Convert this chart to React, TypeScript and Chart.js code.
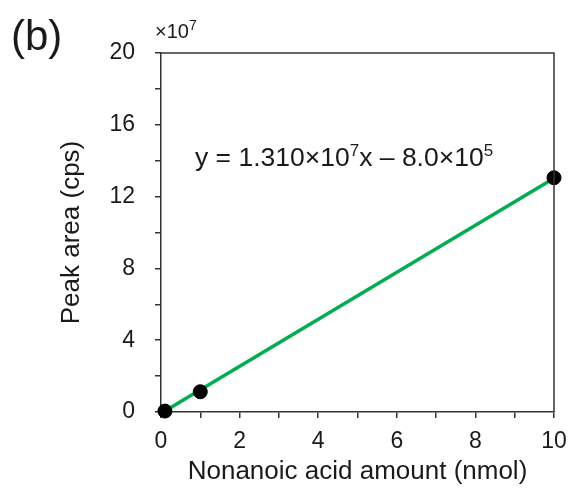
import React, { useEffect, useRef } from "react";
import { Chart, registerables } from "chart.js";

Chart.register(...registerables);

// Calibration data: nonanoic acid amount (nmol) vs. peak area (cps)
const AMOUNT_NMOL = [0.1, 1, 10];
const PEAK_AREA_CPS = [5.0e5, 1.13e7, 1.305e8];

// Linear fit shown in the equation label
const SLOPE = 1.31e7;
const INTERCEPT = -8.0e5;

const X_MIN = 0;
const X_MAX = 10;
const Y_MIN = 0;
const Y_MAX = 2.0e8;
const Y_UNIT = 1e7;

const FONT = "'Liberation Sans', Arial, Helvetica, sans-serif";
const INK = "#1a1a1a";
const AXIS = "#333333";
const GREEN = "#00ae4f";

function drawSup(
  ctx: CanvasRenderingContext2D,
  parts: { t: string; sup?: boolean }[],
  x: number,
  y: number,
  size: number,
  supScale = 0.64
) {
  let cx = x;
  for (const p of parts) {
    const s = p.sup ? Math.round(size * supScale) : size;
    ctx.font = `${s}px ${FONT}`;
    ctx.fillText(p.t, cx, p.sup ? y - size * 0.38 : y);
    cx += ctx.measureText(p.t).width;
  }
}

const annotations = {
  id: "annotations",
  afterDraw(chart: Chart) {
    const { ctx, chartArea } = chart;
    ctx.save();
    // frame on top and right
    ctx.strokeStyle = AXIS;
    ctx.lineWidth = 1.5;
    ctx.beginPath();
    ctx.moveTo(chartArea.left, chartArea.top);
    ctx.lineTo(chartArea.right, chartArea.top);
    ctx.lineTo(chartArea.right, chartArea.bottom);
    ctx.stroke();

    ctx.fillStyle = INK;
    ctx.textBaseline = "alphabetic";
    ctx.textAlign = "left";

    // panel label
    ctx.font = `42px ${FONT}`;
    ctx.fillText("(b)", 11, 50);

    // axis multiplier
    drawSup(ctx, [{ t: "\u00d710" }, { t: "7", sup: true }], 155, 38, 20, 0.7);

    // fit equation
    drawSup(
      ctx,
      [
        { t: "y = 1.310\u00d710" },
        { t: "7", sup: true },
        { t: "x \u2013 8.0\u00d710" },
        { t: "5", sup: true },
      ],
      195,
      166,
      26.5
    );
    ctx.restore();
  },
};

export default function App() {
  const ref = useRef<HTMLCanvasElement | null>(null);

  useEffect(() => {
    if (!ref.current) return;
    Chart.defaults.font.family = FONT;
    Chart.defaults.color = INK;

    const fitX = [AMOUNT_NMOL[0], X_MAX];
    const fitLine = fitX.map((x) => ({ x, y: SLOPE * x + INTERCEPT }));
    const points = AMOUNT_NMOL.map((x, i) => ({ x, y: PEAK_AREA_CPS[i] }));

    const chart = new Chart(ref.current, {
      type: "scatter",
      data: {
        datasets: [
          {
            type: "scatter",
            data: points,
            backgroundColor: "#000000",
            borderColor: "#000000",
            pointRadius: 7,
            pointHoverRadius: 7,
            clip: false as any,
            order: 0,
          },
          {
            type: "line",
            data: fitLine,
            borderColor: GREEN,
            borderWidth: 3.5,
            pointRadius: 0,
            fill: false,
            tension: 0,
            clip: false as any,
            order: 1,
          },
        ],
      },
      plugins: [annotations],
      options: {
        responsive: false,
        animation: false,
        devicePixelRatio: 1,
        layout: { padding: { top: 53, right: 16, left: 0, bottom: 0 } },
        plugins: {
          legend: { display: false },
          tooltip: { enabled: false },
        },
        scales: {
          x: {
            type: "linear",
            min: X_MIN,
            max: X_MAX,
            afterFit: (s: any) => {
              s.height = 78;
              s.paddingLeft = 0;
              s.paddingRight = 0;
            },
            ticks: {
              stepSize: 1,
              padding: 10,
              font: { size: 23 },
              color: INK,
              callback: (v: any) => (Math.round(v) % 2 === 0 ? String(v) : ""),
            },
            grid: {
              drawOnChartArea: false,
              drawTicks: true,
              tickLength: 6,
              color: AXIS,
              lineWidth: 1.5,
            },
            border: { display: true, color: AXIS, width: 1.5 },
            title: {
              display: true,
              text: "Nonanoic acid amount (nmol)",
              font: { size: 26 },
              color: INK,
              padding: { top: 0, bottom: 3 },
            },
          },
          y: {
            type: "linear",
            min: Y_MIN,
            max: Y_MAX,
            afterFit: (s: any) => {
              s.width = 161;
              s.paddingTop = 0;
              s.paddingBottom = 0;
            },
            ticks: {
              stepSize: 2 * Y_UNIT,
              padding: 20,
              font: { size: 23 },
              color: INK,
              callback: (v: any) => {
                const n = Math.round(v / Y_UNIT);
                return n % 4 === 0 ? String(n) : "";
              },
            },
            grid: {
              drawOnChartArea: false,
              drawTicks: true,
              tickLength: 6,
              color: AXIS,
              lineWidth: 1.5,
            },
            border: { display: true, color: AXIS, width: 1.5 },
            title: {
              display: true,
              text: "Peak area (cps)",
              font: { size: 26 },
              color: INK,
              padding: { top: 56, bottom: 0 },
            },
          },
        },
      },
    });
    return () => chart.destroy();
  }, []);

  return (
    <div style={{ position: "absolute", left: 0, top: 0, width: 570, height: 490, background: "#fff" }}>
      <canvas ref={ref} width={570} height={490} style={{ display: "block", width: 570, height: 490 }} />
    </div>
  );
}
